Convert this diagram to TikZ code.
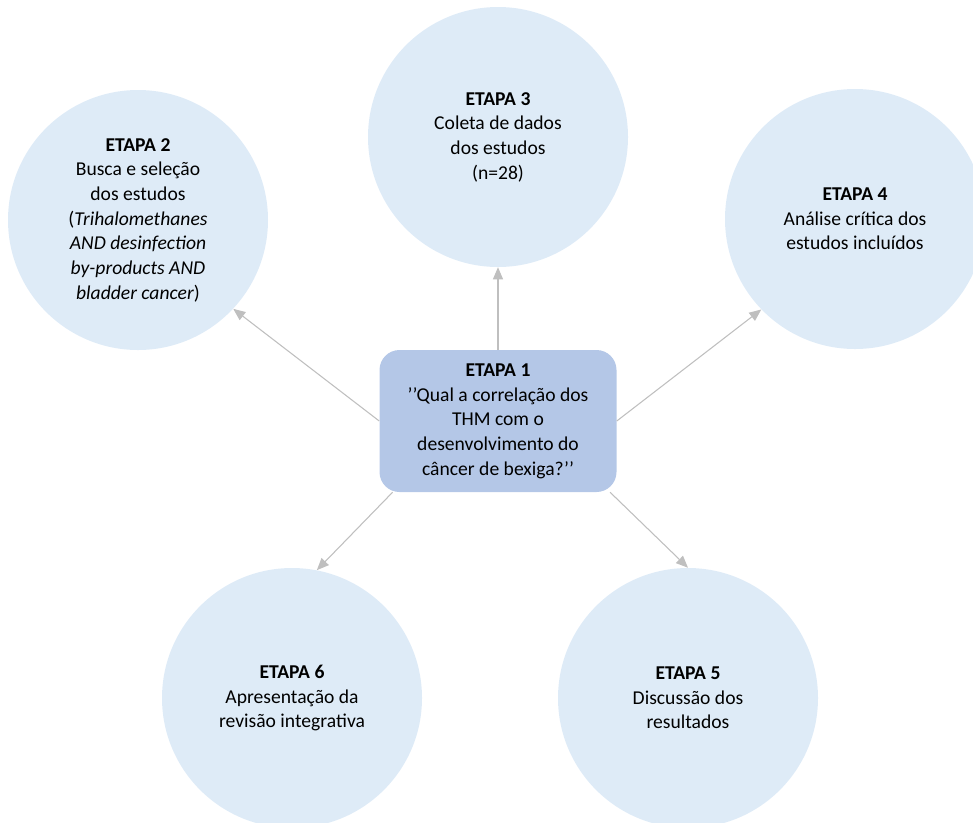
\documentclass[tikz,border=0pt]{standalone}
\usepackage{fontspec}
\setmainfont{Carlito}
\usepackage{tikz}
\usetikzlibrary{arrows.meta}

\definecolor{circulo}{HTML}{DEEBF7}
\definecolor{caixa}{HTML}{B4C7E7}
\definecolor{linha}{HTML}{BFBFBF}

\begin{document}
\begin{tikzpicture}[x=0.75pt, y=-0.75pt,
    etapa/.style = {circle, fill=circulo, minimum size=195pt, inner sep=0pt,
                    align=center, font=\fontsize{14.7}{18.5}\selectfont},
    central/.style = {rectangle, rounded corners=15pt, fill=caixa,
                      minimum width=177.75pt, minimum height=106.5pt,
                      align=center, font=\fontsize{14.7}{18.5}\selectfont},
    seta/.style = {draw=linha, line width=0.8pt, -{Triangle[length=9pt,width=7.5pt]}}]
    \useasboundingbox (0,0) rectangle (973,822);

    % etapas
    \node[etapa] (e2) at (138,220) {\textbf{ETAPA 2}\\Busca e seleção\\dos estudos\\(\textit{Trihalomethanes}\\\textit{AND desinfection}\\\textit{by-products AND}\\\textit{bladder cancer})};
    \node[etapa] (e3) at (498,137) {\textbf{ETAPA 3}\\Coleta de dados\\dos estudos\\(n=28)};
    \node[etapa] (e4) at (855,219) {\textbf{ETAPA 4}\\Análise crítica dos\\estudos incluídos};
    \node[etapa] (e5) at (688,698) {\textbf{ETAPA 5}\\Discussão dos\\resultados};
    \node[etapa] (e6) at (292,698) {\textbf{ETAPA 6}\\Apresentação da\\revisão integrativa};

    % pergunta
    \node[central] (e1) at (498,421) {\textbf{ETAPA 1}\\’’Qual a correlação dos\\THM com o\\desenvolvimento do\\câncer de bexiga?’’};

    % setas
    \draw[seta] (e1.north) -- (e3.south);
    \draw[seta] (e1.west) -- (e2.-43);
    \draw[seta] (e1.east) -- (e4.224);
    \draw[seta] ([xshift=10pt]e1.south west) -- (e6.79);
    \draw[seta] ([xshift=-5pt]e1.south east) -- (e5.90);
\end{tikzpicture}
\end{document}
